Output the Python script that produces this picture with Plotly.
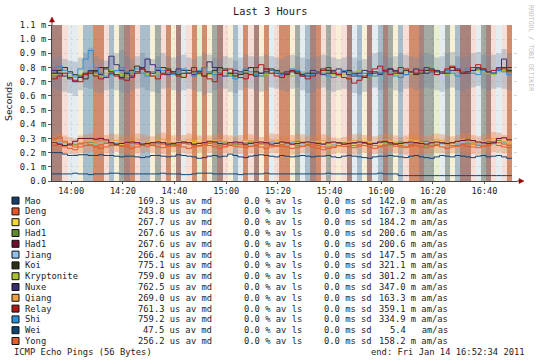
import pandas as pd
import plotly.graph_objects as go

# ---------------- data ----------------
T_START = "2011-01-14 13:52:34"
T_END = "2011-01-14 16:52:34"
STEP_MIN = 2
Y_MAX = 1100  # microseconds

y_tick_vals = [0, 100, 200, 300, 400, 500, 600, 700, 800, 900, 1000, 1100]
y_tick_text = ["0.0", "0.1 m", "0.2 m", "0.3 m", "0.4 m", "0.5 m", "0.6 m",
               "0.7 m", "0.8 m", "0.9 m", "1.0 m", "1.1 m"]
x_tick_labels = ["14:00", "14:20", "14:40", "15:00", "15:20", "15:40", "16:00", "16:20", "16:40"]

# background stripes, one code per 2-minute step
stripe_codes = ("BBPLLYGGOO" "PGYSBOPGGY" "SPOYBLPOVO" "YSBPYGLOPB" "YOLPOOYSLG"
                "BOPSPYPBLG" "YBLGBSYGPO" "OBSSVLSYGB" "BPLSBPLPO")

shi = [800,810,780,760,740,790,860,920,800,760,
       740,750,780,800,770,760,790,760,740,770,
       800,780,760,750,770,790,760,740,780,800,
       770,750,760,780,740,720,760,790,770,750,
       740,760,780,770,750,760,790,780,760,740,
       750,770,760,740,730,760,780,770,750,740,
       760,750,740,760,780,760,740,730,750,770,
       760,780,800,770,750,760,780,760,740,770,
       790,760,750,780,770,760,780,770,750]
relay = [720,740,760,730,710,700,750,770,740,720,
         730,760,740,720,710,730,760,790,770,740,
         720,750,780,760,740,730,760,800,770,740,
         720,700,750,780,790,760,730,720,750,800,
         820,790,760,740,730,760,780,770,740,720,
         740,760,780,800,770,750,730,720,690,710,
         740,760,790,810,780,750,760,800,790,770,
         760,780,800,780,750,760,790,810,780,760,
         770,800,820,790,770,780,800,790,770]
koi = [760,780,800,770,750,740,720,760,780,800,
       790,770,750,730,760,780,810,790,770,760,
       780,800,790,770,750,760,780,770,760,740,
       760,780,800,790,760,740,750,780,800,770,
       760,770,790,780,760,750,770,760,750,740,
       760,770,790,780,760,750,770,780,760,740,
       730,750,770,760,780,790,770,760,780,770,
       750,760,780,790,770,760,780,800,780,760,
       770,780,790,780,770,760,790,800,780]
nuxe = [780,760,740,720,700,730,760,780,770,750,
        800,880,820,780,760,740,770,800,860,820,
        780,760,750,770,790,780,760,750,770,800,
        840,800,760,740,760,780,770,760,750,740,
        760,790,780,760,750,770,780,760,740,760,
        780,770,750,760,780,790,770,750,740,760,
        780,770,760,750,770,790,780,760,750,770,
        790,780,760,770,780,770,760,780,790,770,
        760,780,800,790,770,760,780,860,800]
kryptonite = [750,770,760,740,730,750,770,760,750,740,
              760,780,770,750,740,760,770,760,750,740,
              760,770,780,760,750,740,760,770,750,740,
              750,760,770,760,750,740,760,770,760,750,
              740,750,760,770,760,750,740,760,770,760,
              750,760,770,760,750,740,750,760,770,780,
              760,750,740,760,770,760,750,760,770,760,
              750,760,770,780,770,760,750,770,780,770,
              760,770,780,770,760,750,770,780,770]
deng = [250,260,240,230,220,240,250,260,240,230,
        240,250,260,250,240,230,240,250,260,250,
        240,235,245,255,250,240,230,240,250,260,
        250,240,230,240,250,245,240,235,245,250,
        240,230,240,250,245,240,230,235,245,250,
        240,230,220,230,240,250,245,240,235,245,
        250,240,230,240,250,255,245,240,235,245,
        250,240,235,245,250,240,230,240,250,255,
        245,240,235,245,250,260,250,240,235]
gon = [270,280,265,255,260,270,275,265,260,270,
       280,275,265,260,270,275,265,260,270,280,
       275,265,260,270,275,265,260,270,280,275,
       265,260,270,275,265,260,270,280,275,265,
       260,270,275,265,260,270,280,275,265,260,
       270,275,265,255,260,270,275,265,260,270,
       280,275,265,260,270,275,265,260,270,280,
       275,265,260,270,275,265,260,270,280,275,
       265,260,270,275,265,260,270,280,275]
had1_green = [265,275,270,260,255,265,275,270,260,265,
              275,270,260,265,275,280,270,260,265,270,
              275,270,260,255,265,275,270,260,265,275,
              270,260,265,275,270,260,255,265,275,270,
              260,265,275,270,260,265,275,280,270,260,
              265,270,260,250,255,265,270,260,265,275,
              270,260,265,275,270,260,265,275,270,260,
              265,275,280,270,260,265,275,270,260,265,
              275,270,260,265,275,280,285,270,265]
had1_red = [270,260,250,260,280,300,300,300,295,300,
            290,270,260,265,270,275,270,260,265,270,
            275,270,260,265,270,275,270,260,265,270,
            280,275,265,260,270,275,270,260,265,270,
            275,270,260,265,275,270,260,265,270,275,
            270,265,260,270,275,270,260,265,270,275,
            270,260,265,275,280,270,260,265,270,275,
            270,265,260,270,275,270,265,270,280,285,
            290,285,275,270,265,270,300,305,290]
jiang = [265,270,260,255,265,270,275,265,260,270,
         265,260,270,275,265,260,270,275,265,260,
         270,265,260,270,275,265,260,265,270,275,
         265,260,270,265,260,270,275,265,260,270,
         265,260,270,275,265,260,270,265,260,270,
         275,265,255,250,260,270,265,260,270,275,
         265,260,270,265,260,270,275,265,260,270,
         265,260,270,275,265,260,270,265,260,270,
         275,265,260,270,265,260,270,275,265]
qiang = [280,290,270,260,250,270,280,290,275,265,
         280,290,285,270,265,280,290,280,270,265,
         285,295,280,270,265,275,290,285,270,260,
         270,285,290,280,270,265,280,290,285,270,
         260,275,290,285,270,265,280,290,280,270,
         265,275,285,270,250,245,260,275,285,290,
         280,270,265,280,290,285,270,260,275,290,
         285,270,265,280,290,285,275,265,280,295,
         290,275,265,280,290,300,295,280,270]
yong = [300,310,280,250,240,260,270,250,245,255,
        265,260,250,245,255,265,260,250,245,255,
        265,260,250,245,255,265,260,250,245,255,
        265,260,250,245,255,265,260,250,245,255,
        265,260,250,245,255,265,260,250,245,255,
        260,250,240,230,235,250,260,255,250,255,
        265,260,250,245,255,265,260,250,245,255,
        265,260,250,245,255,265,260,250,245,255,
        265,260,250,245,255,265,270,260,250]
mao = [200,200,190,180,180,185,185,180,180,185,
       180,180,175,170,175,175,170,165,170,180,
       180,175,170,175,185,180,175,170,160,165,
       175,180,170,175,190,180,170,165,175,180,
       185,180,175,170,180,175,170,175,180,175,
       170,175,175,180,170,165,175,180,175,170,
       165,160,170,175,175,180,175,170,165,175,
       180,170,165,160,170,180,175,170,180,175,
       170,165,175,180,170,175,180,170,160]
wei = [50,50,50,50,55,50,50,45,50,50,
       50,55,55,50,50,50,50,50,50,50,
       50,55,50,50,50,45,45,50,55,55,
       55,50,50,50,50,50,45,50,50,50,
       50,55,50,50,50,50,50,50,50,50,
       50,50,50,55,50,50,50,50,50,50,
       50,50,50,55,50,50,50,38,38,38,
       38,38,38,38,38,38,38,38,38,38,
       38,38,38,38,38,38,38,38,38]

top_smoke_lo = [650,640,630,620,600,640,660,650,630,620,
                640,650,640,630,620,640,650,660,640,630,
                620,650,660,640,630,640,650,640,630,610,
                620,640,660,650,630,620,640,660,650,640,
                630,640,660,650,640,630,650,660,640,620,
                630,650,660,640,630,640,650,640,620,610,
                630,650,660,640,650,660,640,630,650,660,
                640,650,660,650,640,630,650,660,640,630,
                650,660,670,650,640,650,660,650,640]
top_smoke_hi = [870,880,860,850,840,870,900,940,880,860,
                850,870,900,920,880,860,880,900,870,860,
                880,900,880,870,880,890,870,860,880,900,
                890,870,860,880,870,850,870,890,880,870,
                880,890,880,870,860,880,890,880,870,860,
                870,880,890,880,870,860,870,880,870,850,
                860,880,900,910,880,870,880,900,890,880,
                870,890,900,890,870,880,900,910,880,870,
                880,900,910,890,880,890,900,930,900]
mid_smoke_lo = [200,205,195,190,185,195,200,205,195,190,
                195,200,205,200,195,190,195,200,205,200,
                195,190,195,205,200,195,190,195,200,205,
                200,195,190,195,200,195,190,185,195,200,
                195,190,195,200,195,190,185,190,195,200,
                195,185,175,180,190,200,195,190,185,195,
                200,195,190,195,200,205,195,190,185,195,
                200,195,190,195,200,195,190,195,200,205,
                195,190,185,195,200,205,200,195,190]
mid_smoke_hi = [330,340,320,310,300,320,330,335,320,315,
                325,335,330,320,315,325,335,330,320,315,
                330,340,330,320,315,325,335,330,320,310,
                320,330,335,325,320,315,325,335,330,320,
                310,320,335,330,320,315,325,335,330,320,
                315,325,330,320,305,300,310,325,330,335,
                325,320,315,325,335,330,320,310,320,335,
                330,320,315,325,335,330,320,315,325,340,
                335,325,315,325,335,345,340,325,320]

legend_names = ["Mao", "Deng", "Gon", "Had1", "Had1", "Jiang", "Koi", "Kryptonite",
                "Nuxe", "Qiang", "Relay", "Shi", "Wei", "Yong"]
legend_median = ["169.3", "243.8", "267.7", "267.6", "267.6", "266.4", "775.1", "759.0",
                 "762.5", "269.0", "761.3", "759.2", "47.5", "256.2"]
legend_amas = ["142.0 m", "167.3 m", "184.2 m", "200.6 m", "200.6 m", "147.5 m", "321.1 m",
               "301.2 m", "347.0 m", "163.3 m", "359.1 m", "334.9 m", "5.4  ", "158.2 m"]
legend_colors = ["#123f6e", "#e2582a", "#f3d63e", "#5f8b2c", "#6e0f2c", "#8fc1ea", "#2b3318",
                 "#a9c232", "#3b2a6c", "#f0a040", "#b01616", "#2f8fd3", "#0f4670", "#e2602e"]
series_data = [mao, deng, gon, had1_green, had1_red, jiang, koi, kryptonite,
               nuxe, qiang, relay, shi, wei, yong]

stripe_palette = {
    "B": "rgba(150,100,92,0.80)",
    "O": "rgba(198,112,72,0.80)",
    "S": "rgba(128,138,128,0.72)",
    "G": "rgba(130,158,178,0.68)",
    "Y": "rgba(242,228,180,0.55)",
    "P": "rgba(240,196,182,0.55)",
    "L": "rgba(210,222,230,0.55)",
    "V": "rgba(214,226,172,0.55)",
}

# ---------------- build ----------------
t0 = pd.Timestamp(T_START)
t1 = pd.Timestamp(T_END)
n = len(mao)
steps = pd.date_range(t0, periods=n + 1, freq=f"{STEP_MIN}min")
t_ext = list(steps)
centers = [s + pd.Timedelta(minutes=STEP_MIN / 2) for s in steps[:-1]]

W_PX, H_PX = 540, 364
L, R, T, B = 52, 517, 25, 181
PW, PH = R - L, B - T


def PX(x):
    return (x - L) / PW


def PY(y):
    return (B - y) / PH


fig = go.Figure()

# smoke
for lo, hi, col in [(top_smoke_lo, top_smoke_hi, "rgba(110,132,160,0.32)"),
                    (mid_smoke_lo, mid_smoke_hi, "rgba(232,128,70,0.36)")]:
    fig.add_trace(go.Scatter(x=t_ext, y=lo + [lo[-1]], mode="lines",
                             line=dict(width=0, shape="hv"), hoverinfo="skip", showlegend=False))
    fig.add_trace(go.Scatter(x=t_ext, y=hi + [hi[-1]], mode="lines", fill="tonexty",
                             fillcolor=col, line=dict(width=0, shape="hv"),
                             hoverinfo="skip", showlegend=False))

# stripes
bx, bc = [], []
for c, code in zip(centers, stripe_codes):
    if code in stripe_palette:
        bx.append(c)
        bc.append(stripe_palette[code])
fig.add_trace(go.Bar(x=bx, y=[Y_MAX] * len(bx), width=STEP_MIN * 60000,
                     marker=dict(color=bc, line=dict(width=0)), hoverinfo="skip", showlegend=False))

# median lines
draw_order = [7, 6, 8, 11, 10, 1, 2, 3, 5, 9, 13, 4, 0, 12]
for i in draw_order:
    vals = series_data[i]
    fig.add_trace(go.Scatter(x=t_ext, y=vals + [vals[-1]], mode="lines",
                             line=dict(width=1, shape="hv", color=legend_colors[i]),
                             hoverinfo="skip", showlegend=False))

mono = "DejaVu Sans Mono"
txt = "#1c1c1c"
ann = []
shapes = []


def note(text, x, y, xanchor="center", size=8.8, family=mono, color=txt, angle=0):
    ann.append(dict(text=text.replace(" ", "\u00a0"), x=PX(x), y=PY(y), xref="paper",
                    yref="paper", xanchor=xanchor, yanchor="middle", showarrow=False,
                    textangle=angle, font=dict(family=family, size=size, color=color)))


note("Last 3 Hours", 270, 11, size=10.3)
note("Seconds", 8, 102, size=9.3, family="DejaVu Sans", angle=-90)
note("RRDTOOL / TOBI OETIKER", 531, 48, size=6.5, color="#bdbdbd", angle=90)

row0, dy = 200.6, 10.8
for i, name in enumerate(legend_names):
    yc = row0 + dy * i
    shapes.append(dict(type="rect", xref="paper", yref="paper", x0=PX(12), x1=PX(19),
                       y0=PY(yc + 3.5), y1=PY(yc - 3.5), fillcolor=legend_colors[i],
                       line=dict(color="#111111", width=1)))
    note(name, 23, yc, xanchor="left")
    note(f"{legend_median[i]} us av md", 214, yc, xanchor="right")
    note("0.0 % av ls", 241.5, yc, xanchor="left")
    note("0.0 ms sd", 322, yc, xanchor="left")
    note(f"{legend_amas[i]} am/as", 450, yc, xanchor="right")

yf = row0 + dy * len(legend_names)
note("ICMP Echo Pings (56 Bytes)", 12, yf, xanchor="left")
note("end: Fri Jan 14 16:52:34 2011", 527, yf, xanchor="right")

# axis extensions and arrows
shapes.append(dict(type="line", xref="paper", yref="paper", x0=1, x1=PX(520), y0=0, y1=0,
                   line=dict(color="#444444", width=1)))
shapes.append(dict(type="line", xref="paper", yref="paper", x0=0, x1=0, y0=1, y1=PY(21),
                   line=dict(color="#444444", width=1)))
shapes.append(dict(type="path", xref="paper", yref="paper",
                   path=f"M {PX(519)} {PY(178.5)} L {PX(524)} {PY(181)} L {PX(519)} {PY(183.5)} Z",
                   fillcolor="#9a0000", line=dict(color="#9a0000", width=0.5)))
shapes.append(dict(type="path", xref="paper", yref="paper",
                   path=f"M {PX(49.5)} {PY(22)} L {PX(52)} {PY(17)} L {PX(54.5)} {PY(22)} Z",
                   fillcolor="#9a0000", line=dict(color="#9a0000", width=0.5)))

x_tick_vals = [pd.Timestamp(f"2011-01-14 {lab}") for lab in x_tick_labels]

fig.update_layout(
    width=W_PX, height=H_PX,
    margin=dict(l=L, r=W_PX - R, t=T, b=H_PX - B, pad=0, autoexpand=False),
    paper_bgcolor="white", plot_bgcolor="white",
    bargap=0, barmode="overlay",
    annotations=ann, shapes=shapes,
    xaxis=dict(type="date", range=[t0, t1], tickvals=x_tick_vals, ticktext=x_tick_labels,
               showgrid=True, gridcolor="#d8d8d8", griddash="dot", gridwidth=1,
               ticks="outside", ticklen=2, tickcolor="#555555",
               showline=True, linecolor="#444444", linewidth=1, zeroline=False,
               tickfont=dict(family=mono, size=8.6, color=txt), fixedrange=True),
    yaxis=dict(range=[0, Y_MAX], tickvals=y_tick_vals, ticktext=y_tick_text,
               showgrid=True, gridcolor="#d8d8d8", griddash="dot", gridwidth=1,
               ticks="outside", ticklen=3, tickcolor="#555555",
               showline=True, linecolor="#444444", linewidth=1, zeroline=False,
               tickfont=dict(family=mono, size=8.8, color=txt), fixedrange=True),
)

fig.write_html("out.html", config={"displayModeBar": False},
               post_script="document.body.style.margin='0px';document.body.style.padding='0px';")
